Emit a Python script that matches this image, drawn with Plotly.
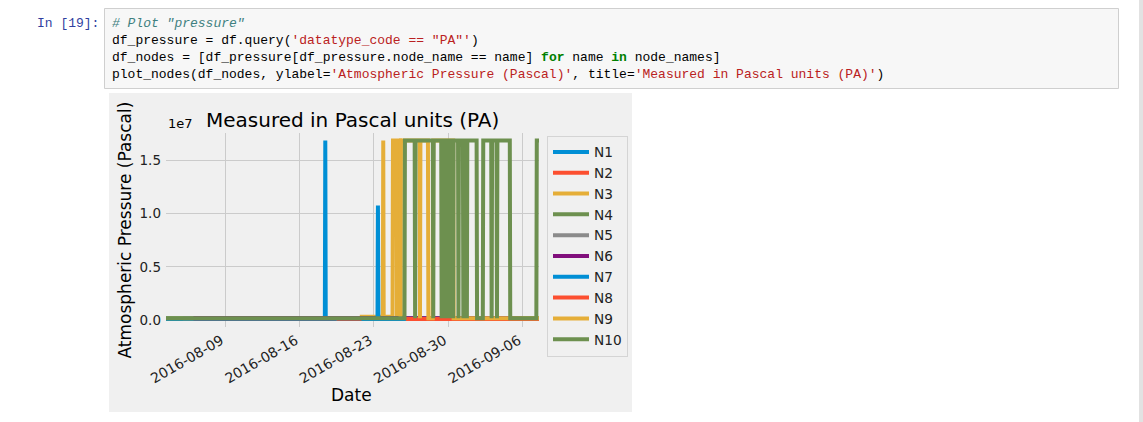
import plotly.graph_objects as go

W, H = 1143, 422

# ---------------- data ----------------
node_names = ["N1", "N2", "N3", "N4", "N5", "N6", "N7", "N8", "N9", "N10"]
node_colors = ["#008fd5", "#fc4f30", "#e5ae38", "#6d904f", "#8b8b8b",
               "#810f7c", "#008fd5", "#fc4f30", "#e5ae38", "#6d904f"]

N1_time = ["2016-08-03 10:00", "2016-08-10 00:00", "2016-08-18 09:00", "2016-08-18 10:00",
           "2016-08-18 11:00", "2016-08-19 12:00"]
N1_pa = [101200, 100800, 100900, 16850000, 100700, 100600]

N2_time = ["2016-08-19 12:00", "2016-08-24 00:00", "2016-08-30 00:00", "2016-09-07 12:00"]
N2_pa = [99500, 99800, 99200, 99400]

N3_time = ["2016-08-21 16:00", "2016-08-23 20:00", "2016-08-23 21:00", "2016-08-23 22:00",
           "2016-08-24 18:00", "2016-08-24 19:00", "2016-08-25 03:00", "2016-08-25 04:00",
           "2016-08-25 05:00", "2016-08-25 11:00", "2016-08-25 12:00", "2016-08-26 00:00"]
N3_pa = [300000, 300000, 16850000, 300000,
         300000, 16850000, 16850000, 300000,
         16850000, 16850000, 300000, 300000]

N4_time = ["2016-08-03 10:00", "2016-08-15 00:00", "2016-08-25 00:00", "2016-09-07 13:00"]
N4_pa = [180000, 182000, 179000, 181000]

N5_time = ["2016-08-05 00:00", "2016-08-20 00:00", "2016-09-05 00:00"]
N5_pa = [175000, 176000, 175000]

N6_time = ["2016-08-06 00:00", "2016-08-22 00:00", "2016-09-06 00:00"]
N6_pa = [178000, 177000, 178000]

N7_time = ["2016-08-21 20:00", "2016-08-23 08:00", "2016-08-23 09:00", "2016-08-23 10:00",
           "2016-09-07 13:00"]
N7_pa = [100500, 100500, 10750000, 100500, 100500]

N8_time = ["2016-08-26 00:00", "2016-09-01 00:00", "2016-09-07 13:00"]
N8_pa = [99000, 99300, 99100]

N9_time = ["2016-08-25 12:00", "2016-08-25 13:00", "2016-08-27 07:00", "2016-08-27 08:00",
           "2016-08-27 09:00", "2016-08-28 02:00", "2016-08-28 03:00", "2016-08-28 13:00",
           "2016-08-28 14:00", "2016-08-30 11:00", "2016-08-30 12:00", "2016-09-07 13:00"]
N9_pa = [180000, 16850000, 16850000, 180000,
         16850000, 16850000, 180000, 180000,
         16850000, 16850000, 180000, 180000]

N10_time = ["2016-08-03 10:00", "2016-08-25 21:00", "2016-08-25 22:00",
            "2016-08-26 20:00", "2016-08-26 21:00", "2016-08-26 22:00",
            "2016-08-28 13:00", "2016-08-28 14:00", "2016-08-28 15:00",
            "2016-08-29 08:00", "2016-08-29 09:00", "2016-08-29 10:00",
            "2016-08-29 14:00", "2016-08-29 15:00", "2016-08-29 16:00",
            "2016-08-29 21:00", "2016-08-29 22:00", "2016-08-29 23:00",
            "2016-08-30 04:00", "2016-08-30 05:00", "2016-08-30 06:00",
            "2016-08-30 10:00", "2016-08-30 11:00", "2016-08-30 12:00",
            "2016-08-30 22:00", "2016-08-30 23:00", "2016-08-31 00:00",
            "2016-08-31 09:00", "2016-08-31 10:00", "2016-08-31 11:00",
            "2016-08-31 17:00", "2016-08-31 18:00", "2016-08-31 19:00",
            "2016-09-01 16:00", "2016-09-01 17:00",
            "2016-09-02 06:00", "2016-09-02 07:00",
            "2016-09-03 01:00", "2016-09-03 02:00", "2016-09-03 03:00",
            "2016-09-03 13:00", "2016-09-03 14:00", "2016-09-03 15:00",
            "2016-09-04 19:00", "2016-09-04 20:00",
            "2016-09-07 07:00", "2016-09-07 08:00", "2016-09-07 13:00"]
N10_pa = [180000, 180000, 16850000,
          16850000, 180000, 16850000,
          16850000, 180000, 16850000,
          16850000, 180000, 16850000,
          16850000, 180000, 16850000,
          16850000, 180000, 16850000,
          16850000, 180000, 16850000,
          16850000, 180000, 16850000,
          16850000, 180000, 16850000,
          16850000, 180000, 16850000,
          16850000, 180000, 16850000,
          16850000, 180000,
          180000, 16850000,
          16850000, 180000, 16850000,
          16850000, 180000, 16850000,
          16850000, 180000,
          180000, 16850000, 16850000]

series_time = [N1_time, N2_time, N3_time, N4_time, N5_time, N6_time, N7_time, N8_time, N9_time, N10_time]
series_pa = [N1_pa, N2_pa, N3_pa, N4_pa, N5_pa, N6_pa, N7_pa, N8_pa, N9_pa, N10_pa]

x_range = ["2016-08-03 10:00", "2016-09-07 13:00"]
y_range = [-650000, 17550000]
y_ticks = [0, 5000000, 10000000, 15000000]
x_tick0 = "2016-08-09"

title_text = "Measured in Pascal units (PA)"
ylabel = "Atmospheric Pressure (Pascal)"
xlabel = "Date"

# ---------------- helpers ----------------
def px(x):
    return x / W

def py(y):
    return 1 - y / H

fig = go.Figure()
for name, color, t, v in zip(node_names, node_colors, series_time, series_pa):
    fig.add_trace(go.Scatter(x=t, y=v, mode="lines", name=name,
                             line=dict(color=color, width=4)))

# ---------------- notebook chrome ----------------
shapes = [
    dict(type="rect", xref="paper", yref="paper", x0=px(104.5), x1=px(1118.5), y0=py(8.5), y1=py(88.5),
         fillcolor="#f7f7f7", line=dict(color="#cfcfcf", width=1), layer="below"),
    dict(type="rect", xref="paper", yref="paper", x0=px(109), x1=px(632), y0=py(93), y1=py(412),
         fillcolor="#f0f0f0", line=dict(width=0), layer="below"),
    dict(type="rect", xref="paper", yref="paper", x0=px(1139), x1=px(1143), y0=0, y1=1,
         fillcolor="#e2e2e2", line=dict(width=0), layer="below"),
]

mono = "Liberation Mono, Courier New, monospace"
RED = "#BA2121"
GRN = "#008000"
code_lines = [
    "<i><span style='color:#408080'># Plot \"pressure\"</span></i>",
    "df_pressure = df.query(<span style='color:%s'>'datatype_code == \"PA\"'</span>)" % RED,
    "df_nodes = [df_pressure[df_pressure.node_name == name] <b><span style='color:%s'>for</span></b> name <b><span style='color:%s'>in</span></b> node_names]" % (GRN, GRN),
    "plot_nodes(df_nodes, ylabel=<span style='color:%s'>'Atmospheric Pressure (Pascal)'</span>, title=<span style='color:%s'>'Measured in Pascal units (PA)'</span>)" % (RED, RED),
]
annotations = [
    dict(text="In&nbsp;[19]:", xref="paper", yref="paper", x=px(34.5), y=py(23.5), xanchor="left",
         yanchor="middle", showarrow=False, font=dict(family=mono, size=13, color="#303F9F")),
]
for i, line in enumerate(code_lines):
    annotations.append(dict(text=line, xref="paper", yref="paper", x=px(109.5), y=py(23.5 + 16.9 * i),
                            xanchor="left", yanchor="middle", showarrow=False,
                            font=dict(family=mono, size=13, color="#000000")))

sans = "DejaVu Sans"
annotations += [
    dict(text=title_text, xref="paper", yref="paper", x=px(352), y=py(120.5), xanchor="center",
         yanchor="middle", showarrow=False, font=dict(family=sans, size=20, color="#000000")),
    dict(text="1e7", xref="paper", yref="paper", x=px(165.5), y=py(123.5), xanchor="left",
         yanchor="middle", showarrow=False, font=dict(family=sans, size=13, color="#000000")),
    dict(text=ylabel, xref="paper", yref="paper", x=px(124.5), y=py(230), xanchor="center",
         yanchor="middle", textangle=-90, showarrow=False, font=dict(family=sans, size=17, color="#000000")),
    dict(text=xlabel, xref="paper", yref="paper", x=px(351.5), y=py(395), xanchor="center",
         yanchor="middle", showarrow=False, font=dict(family=sans, size=17, color="#000000")),
]

fig.update_layout(
    width=W, height=H, autosize=False,
    margin=dict(l=0, r=0, t=0, b=0, pad=0),
    paper_bgcolor="#ffffff", plot_bgcolor="#f0f0f0",
    shapes=shapes, annotations=annotations,
    showlegend=True,
    legend=dict(x=px(547), y=py(135.5), xanchor="left", yanchor="top",
                bgcolor="#f0f0f0", bordercolor="#d4d4d4", borderwidth=1, itemwidth=36,
                font=dict(family=sans, size=13.7, color="#222222"), tracegroupgap=0),
    xaxis=dict(domain=[px(166), px(539)], range=x_range, type="date", automargin=False,
               tick0=x_tick0, dtick=7 * 86400000, tickformat="%Y-%m-%d", tickangle=-30,
               showgrid=True, gridcolor="#cbcbcb", gridwidth=1, zeroline=False, showline=False,
               ticks="", ticklabelshift=-4, ticklabelstandoff=2,
               tickfont=dict(family=sans, size=14, color="#222222")),
    yaxis=dict(domain=[py(327), py(133)], range=y_range, automargin=False,
               tickvals=y_ticks, ticktext=["%.1f" % (v / 1e7) for v in y_ticks],
               showgrid=True, gridcolor="#cbcbcb", gridwidth=1, zeroline=False, showline=False,
               ticks="", ticklabelstandoff=4, tickfont=dict(family=sans, size=13.5, color="#222222")),
)

fig.write_html("out.html")
